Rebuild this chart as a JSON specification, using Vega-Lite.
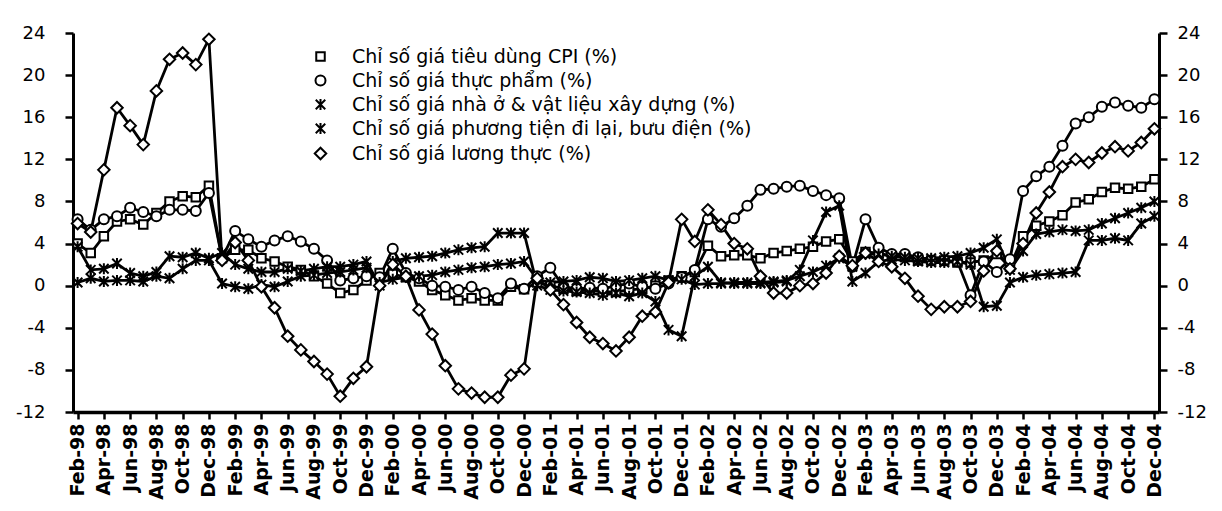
{
  "$schema": "https://vega.github.io/schema/vega-lite/v6.json",
  "autosize": {"type": "none"},
  "padding": {"left": 73, "top": 33, "right": 63, "bottom": 99},
  "width": 1086,
  "height": 379,
  "background": "white",
  "data": {"values": [
    {"m":"Feb-98","c":4.0,"f":6.3,"h":0.3,"t":3.7,"g":5.9},
    {"m":"Mar-98","c":3.1,"f":5.3,"h":0.7,"t":1.5,"g":5.1},
    {"m":"Apr-98","c":4.7,"f":6.3,"h":0.4,"t":1.6,"g":11.0},
    {"m":"May-98","c":6.1,"f":6.6,"h":0.5,"t":2.1,"g":16.9},
    {"m":"Jun-98","c":6.3,"f":7.4,"h":0.5,"t":1.2,"g":15.2},
    {"m":"Jul-98","c":5.8,"f":7.0,"h":0.4,"t":0.9,"g":13.4},
    {"m":"Aug-98","c":6.9,"f":6.6,"h":0.9,"t":1.3,"g":18.5},
    {"m":"Sep-98","c":8.0,"f":7.2,"h":0.7,"t":2.8,"g":21.5},
    {"m":"Oct-98","c":8.5,"f":7.2,"h":1.6,"t":2.7,"g":22.1},
    {"m":"Nov-98","c":8.4,"f":7.1,"h":2.4,"t":3.1,"g":21.0},
    {"m":"Dec-98","c":9.5,"f":8.8,"h":2.4,"t":2.6,"g":23.4},
    {"m":"Jan-99","c":2.6,"f":2.6,"h":0.2,"t":3.1,"g":2.4},
    {"m":"Feb-99","c":3.4,"f":5.2,"h":-0.1,"t":2.0,"g":4.1},
    {"m":"Mar-99","c":3.4,"f":4.4,"h":-0.3,"t":1.6,"g":2.4},
    {"m":"Apr-99","c":2.6,"f":3.7,"h":0.1,"t":1.3,"g":-0.1},
    {"m":"May-99","c":2.3,"f":4.3,"h":-0.1,"t":1.3,"g":-2.1},
    {"m":"Jun-99","c":1.8,"f":4.7,"h":0.4,"t":1.6,"g":-4.8},
    {"m":"Jul-99","c":1.5,"f":4.2,"h":0.9,"t":1.4,"g":-6.1},
    {"m":"Aug-99","c":0.9,"f":3.5,"h":1.0,"t":1.6,"g":-7.2},
    {"m":"Sep-99","c":0.2,"f":2.4,"h":1.2,"t":1.8,"g":-8.4},
    {"m":"Oct-99","c":-0.7,"f":0.5,"h":1.3,"t":1.8,"g":-10.5},
    {"m":"Nov-99","c":-0.4,"f":0.7,"h":1.5,"t":2.0,"g":-8.8},
    {"m":"Dec-99","c":0.5,"f":0.9,"h":1.7,"t":2.3,"g":-7.7},
    {"m":"Jan-00","c":1.2,"f":0.8,"h":0.3,"t":0.0,"g":0.0},
    {"m":"Feb-00","c":1.1,"f":3.5,"h":0.6,"t":2.3,"g":2.0},
    {"m":"Mar-00","c":0.8,"f":1.2,"h":0.8,"t":2.6,"g":0.9},
    {"m":"Apr-00","c":0.4,"f":0.7,"h":0.9,"t":2.7,"g":-2.3},
    {"m":"May-00","c":-0.4,"f":0.0,"h":1.0,"t":2.8,"g":-4.6},
    {"m":"Jun-00","c":-0.9,"f":-0.1,"h":1.3,"t":3.1,"g":-7.6},
    {"m":"Jul-00","c":-1.4,"f":-0.4,"h":1.5,"t":3.4,"g":-9.8},
    {"m":"Aug-00","c":-1.2,"f":-0.1,"h":1.7,"t":3.6,"g":-10.2},
    {"m":"Sep-00","c":-1.4,"f":-0.7,"h":1.8,"t":3.7,"g":-10.6},
    {"m":"Oct-00","c":-1.4,"f":-1.2,"h":2.0,"t":5.0,"g":-10.6},
    {"m":"Nov-00","c":-0.1,"f":0.2,"h":2.1,"t":5.0,"g":-8.5},
    {"m":"Dec-00","c":-0.35,"f":-0.3,"h":2.3,"t":5.0,"g":-7.9},
    {"m":"Jan-01","c":0.3,"f":0.9,"h":0.6,"t":0.0,"g":0.7},
    {"m":"Feb-01","c":0.0,"f":1.7,"h":0.3,"t":-0.4,"g":-0.4},
    {"m":"Mar-01","c":-0.3,"f":-0.1,"h":0.4,"t":-0.5,"g":-1.8},
    {"m":"Apr-01","c":-0.5,"f":-0.3,"h":0.5,"t":-0.6,"g":-3.5},
    {"m":"May-01","c":-0.4,"f":-0.2,"h":0.8,"t":-0.7,"g":-4.9},
    {"m":"Jun-01","c":-0.6,"f":-0.3,"h":0.7,"t":-0.9,"g":-5.5},
    {"m":"Jul-01","c":-0.6,"f":0.0,"h":0.4,"t":-0.7,"g":-6.2},
    {"m":"Aug-01","c":-0.4,"f":0.2,"h":0.5,"t":-1.0,"g":-4.9},
    {"m":"Sep-01","c":-0.3,"f":-0.1,"h":0.7,"t":-0.7,"g":-2.9},
    {"m":"Oct-01","c":0.0,"f":-0.3,"h":0.9,"t":-1.5,"g":-2.5},
    {"m":"Nov-01","c":0.5,"f":0.2,"h":0.5,"t":-4.2,"g":0.3},
    {"m":"Dec-01","c":0.9,"f":0.8,"h":0.6,"t":-4.8,"g":6.3},
    {"m":"Jan-02","c":1.3,"f":1.5,"h":0.1,"t":0.9,"g":4.2},
    {"m":"Feb-02","c":3.8,"f":6.3,"h":0.2,"t":1.8,"g":7.2},
    {"m":"Mar-02","c":2.8,"f":5.6,"h":0.2,"t":0.3,"g":5.8},
    {"m":"Apr-02","c":2.9,"f":6.4,"h":0.3,"t":0.2,"g":4.0},
    {"m":"May-02","c":2.9,"f":7.6,"h":0.3,"t":0.2,"g":3.5},
    {"m":"Jun-02","c":2.6,"f":9.1,"h":0.3,"t":0.2,"g":0.9},
    {"m":"Jul-02","c":3.1,"f":9.2,"h":0.4,"t":0.3,"g":-0.7},
    {"m":"Aug-02","c":3.3,"f":9.4,"h":0.5,"t":0.4,"g":-0.7},
    {"m":"Sep-02","c":3.5,"f":9.5,"h":0.9,"t":1.5,"g":0.0},
    {"m":"Oct-02","c":3.7,"f":9.0,"h":1.3,"t":4.3,"g":0.2},
    {"m":"Nov-02","c":4.2,"f":8.6,"h":1.9,"t":7.0,"g":1.2},
    {"m":"Dec-02","c":4.4,"f":8.3,"h":2.6,"t":7.6,"g":2.8},
    {"m":"Jan-03","c":2.3,"f":1.8,"h":1.8,"t":0.4,"g":1.9},
    {"m":"Feb-03","c":3.2,"f":6.3,"h":3.0,"t":1.2,"g":3.1},
    {"m":"Mar-03","c":3.1,"f":3.6,"h":3.0,"t":2.3,"g":2.3},
    {"m":"Apr-03","c":2.8,"f":3.0,"h":2.8,"t":2.5,"g":1.8},
    {"m":"May-03","c":2.8,"f":3.0,"h":2.7,"t":2.4,"g":0.7},
    {"m":"Jun-03","c":2.4,"f":2.7,"h":2.6,"t":2.3,"g":-1.0},
    {"m":"Jul-03","c":2.4,"f":2.4,"h":2.6,"t":2.2,"g":-2.25},
    {"m":"Aug-03","c":2.4,"f":2.4,"h":2.7,"t":2.2,"g":-2.0},
    {"m":"Sep-03","c":2.2,"f":2.3,"h":2.8,"t":2.3,"g":-2.0},
    {"m":"Oct-03","c":2.2,"f":-0.9,"h":3.1,"t":2.0,"g":-1.5},
    {"m":"Nov-03","c":2.4,"f":2.3,"h":3.6,"t":-2.0,"g":1.4},
    {"m":"Dec-03","c":3.0,"f":1.3,"h":4.4,"t":-1.9,"g":3.3},
    {"m":"Jan-04","c":1.8,"f":2.5,"h":1.5,"t":0.3,"g":1.6},
    {"m":"Feb-04","c":4.7,"f":9.0,"h":3.3,"t":0.8,"g":4.0},
    {"m":"Mar-04","c":5.7,"f":10.4,"h":4.9,"t":1.0,"g":6.9},
    {"m":"Apr-04","c":6.1,"f":11.3,"h":5.1,"t":1.1,"g":8.9},
    {"m":"May-04","c":6.7,"f":13.3,"h":5.3,"t":1.2,"g":11.3},
    {"m":"Jun-04","c":7.9,"f":15.4,"h":5.2,"t":1.3,"g":12.0},
    {"m":"Jul-04","c":8.2,"f":16.0,"h":5.3,"t":4.3,"g":11.7},
    {"m":"Aug-04","c":8.9,"f":17.0,"h":5.9,"t":4.3,"g":12.6},
    {"m":"Sep-04","c":9.3,"f":17.4,"h":6.4,"t":4.5,"g":13.2},
    {"m":"Oct-04","c":9.2,"f":17.1,"h":6.9,"t":4.3,"g":12.8},
    {"m":"Nov-04","c":9.4,"f":16.9,"h":7.4,"t":5.9,"g":13.6},
    {"m":"Dec-04","c":10.1,"f":17.7,"h":8.0,"t":6.6,"g":14.9}
  ]},
  "transform": [{"fold": ["c", "f", "h", "t", "g"], "as": ["s", "v"]}],
  "layer": [
    {
      "mark": {"type": "line", "color": "black", "strokeWidth": 2.8},
      "encoding": {
        "x": {"field": "m", "type": "ordinal", "sort": null, "scale": {"type": "point", "padding": 0.35},
          "axis": {"title": null, "values": ["Feb-98","Apr-98","Jun-98","Aug-98","Oct-98","Dec-98","Feb-99","Apr-99","Jun-99","Aug-99","Oct-99","Dec-99","Feb-00","Apr-00","Jun-00","Aug-00","Oct-00","Dec-00","Feb-01","Apr-01","Jun-01","Aug-01","Oct-01","Dec-01","Feb-02","Apr-02","Jun-02","Aug-02","Oct-02","Dec-02","Feb-03","Apr-03","Jun-03","Aug-03","Oct-03","Dec-03","Feb-04","Apr-04","Jun-04","Aug-04","Oct-04","Dec-04"],
            "labelAngle": 270, "labelFontSize": 19, "labelFontWeight": "bold", "labelFont": "DejaVu Sans", "labelPadding": 4,
            "domainWidth": 3.5, "tickWidth": 2.5, "tickSize": 7, "labelColor": "black", "domainColor": "black", "tickColor": "black"}},
        "y": {"field": "v", "type": "quantitative", "scale": {"domain": [-12, 24], "nice": false, "zero": false},
          "axis": {"orient": "left", "title": null, "values": [-12,-8,-4,0,4,8,12,16,20,24], "labelExpr": "'' + datum.value", "labelFontSize": 18, "labelFont": "DejaVu Sans", "labelPadding": 20,
            "domainWidth": 3, "tickWidth": 2.5, "tickSize": 8, "labelColor": "black", "domainColor": "black", "tickColor": "black", "grid": false}},
        "detail": {"field": "s"}
      }
    },
    {
      "mark": {"type": "point", "filled": true, "fill": "white", "stroke": "black", "strokeWidth": 2, "size": 100, "opacity": 1},
      "encoding": {
        "x": {"field": "m", "type": "ordinal", "sort": null},
        "y": {"field": "v", "type": "quantitative",
          "axis": {"orient": "right", "title": null, "values": [-12,-8,-4,0,4,8,12,16,20,24], "labelExpr": "'' + datum.value", "labelFontSize": 18, "labelFont": "DejaVu Sans", "labelPadding": 10,
            "domainWidth": 3, "tickWidth": 2.5, "tickSize": 8, "labelColor": "black", "domainColor": "black", "tickColor": "black", "grid": false}},
        "shape": {"field": "s", "type": "nominal",
          "scale": {"domain": ["c", "f", "h", "t", "g"],
            "range": ["M-0.85,-0.85H0.85V0.85H-0.85Z",
                      "M-1,0C-1,-0.55,-0.55,-1,0,-1C0.55,-1,1,-0.55,1,0C1,0.55,0.55,1,0,1C-0.55,1,-1,0.55,-1,0Z",
                      "M0,-1.1V1.1M-0.95,-0.95L0.95,0.95M-0.95,0.95L0.95,-0.95",
                      "M0,-1.1V1.1M-0.95,-0.95L0.95,0.95M-0.95,0.95L0.95,-0.95",
                      "M-1.15,0L0,-1.15L1.15,0L0,1.15Z"]},
          "legend": {"orient": "none", "legendX": 238, "legendY": 14, "title": null, "padding": 0,
            "labelFont": "DejaVu Sans", "labelFontSize": 19, "labelColor": "black", "labelLimit": 0, "labelOffset": 22,
            "symbolSize": 100, "symbolStrokeWidth": 2, "rowPadding": 4,
            "labelExpr": "datum.value == 'c' ? 'Chỉ số giá tiêu dùng CPI (%)' : datum.value == 'f' ? 'Chỉ số giá thực phẩm (%)' : datum.value == 'h' ? 'Chỉ số giá nhà ở & vật liệu xây dựng (%)' : datum.value == 't' ? 'Chỉ số giá phương tiện đi lại, bưu điện (%)' : 'Chỉ số giá lương thực (%)'"
          }
        }
      }
    }
  ],
  "resolve": {"axis": {"y": "independent"}},
  "config": {"view": {"stroke": null}}
}
